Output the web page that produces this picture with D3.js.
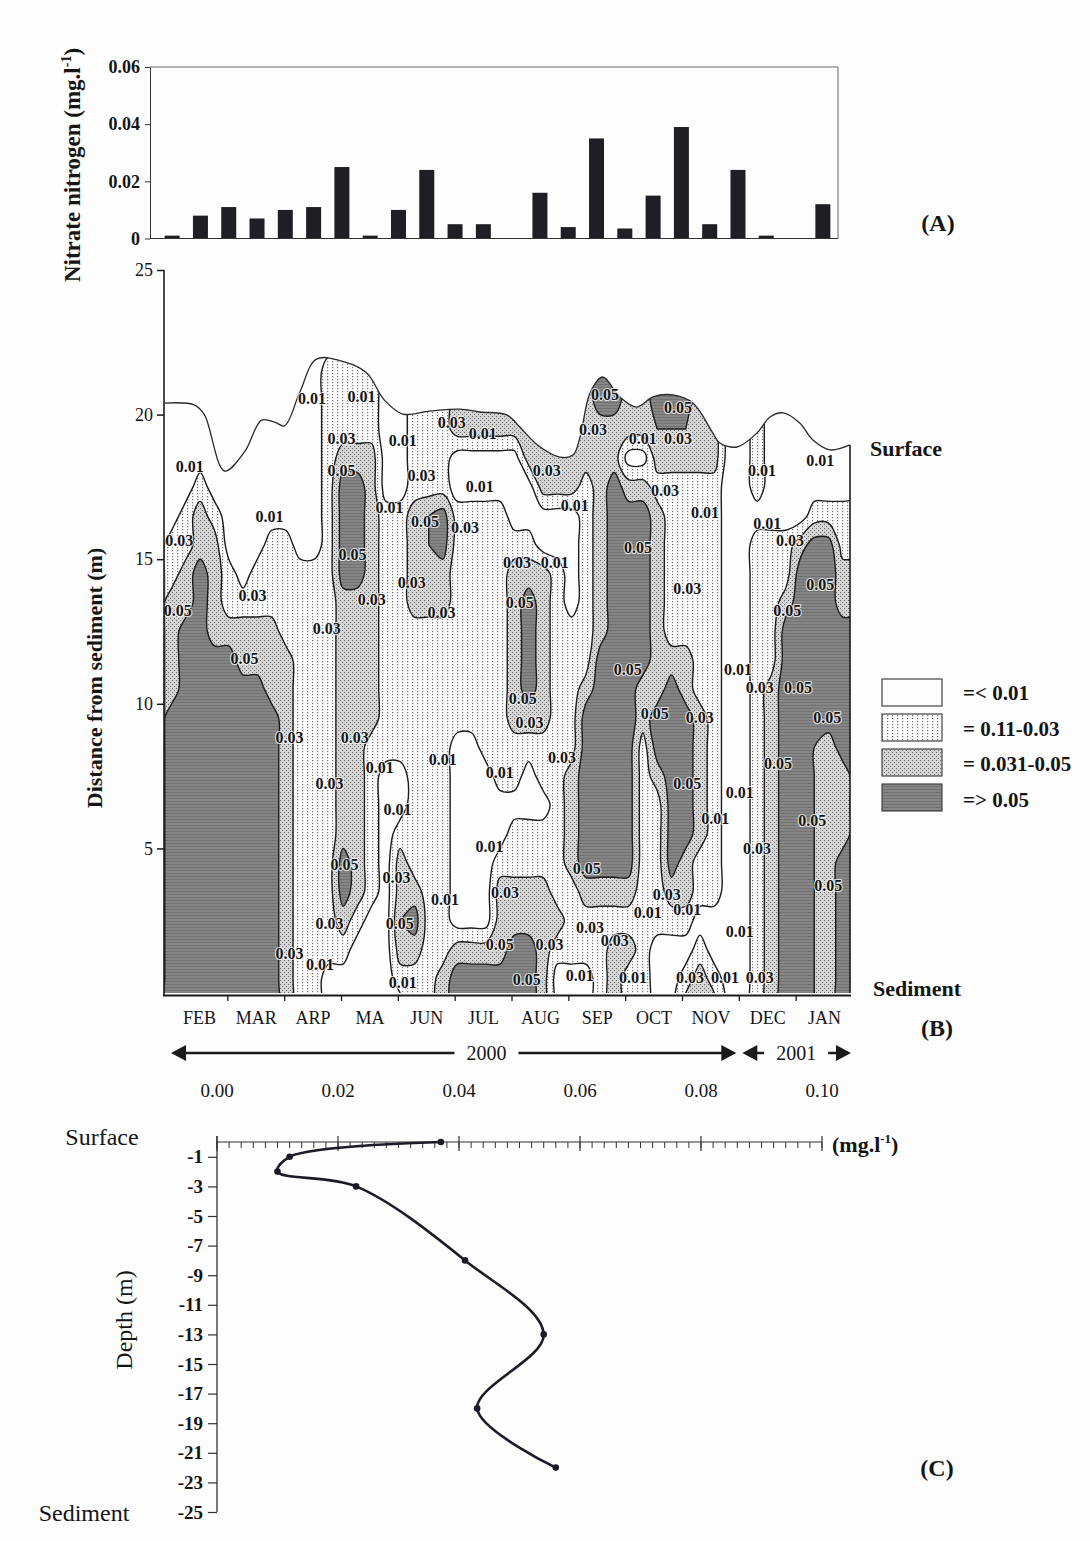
<!DOCTYPE html>
<html>
<head>
<meta charset="utf-8">
<title>Nitrate nitrogen</title>
<script src="https://cdn.jsdelivr.net/npm/d3@7/dist/d3.min.js"></script>
<style>
  html, body { margin: 0; padding: 0; background: #fdfdfd; }
  svg { display: block; }
  text { font-family: "Liberation Serif", "Times New Roman", Times, serif; fill: #151515; }
</style>
</head>
<body>
<svg id="fig" width="1090" height="1541"></svg>
<script>
// ---------- (A) nitrate nitrogen per fortnightly sample, mg/l ----------
const sampleNitrate = [0.001, 0.008, 0.011, 0.007, 0.010, 0.011, 0.025, 0.001, 0.010, 0.024, 0.005, 0.005,
                       0.000, 0.016, 0.004, 0.035, 0.0035, 0.015, 0.039, 0.005, 0.024, 0.001, 0.000, 0.012];
const sampleTicks = [0, 0.02, 0.04, 0.06];

// ---------- (B) section through the water column ----------
const months = ["FEB", "MAR", "ARP", "MA", "JUN", "JUL", "AUG", "SEP", "OCT", "NOV", "DEC", "JAN"];
const distanceTicks = [5, 10, 15, 20, 25];
const yearSpans = [
  { year: "2000", start: 0, end: 10, labelAt: 5.55 },
  { year: "2001", start: 10, end: 12, labelAt: 11 }
];

// Nitrate in hundredths of mg/l, one column per quarter month (FEB -> JAN),
// written as runs "value*count" from 22 m above the sediment down to 0 m.
const nitrateColumns = [
  "0*6 2*2 4*4 6*11", "0*5 2*2 4*2 6*14", "0*4 2*1 4*2 6*16", "0*5 2*1 4*4 6*13",
  "0*7 2*2 4*1 6*13", "0*8 2*1 4*2 6*12", "0*7 2*2 4*2 6*12", "0*6 2*3 4*3 6*11",
  "0*6 2*4 4*13", "0*7 2*16", "0*7 2*16", "2*21 0*2",
  "2*3 4*1 6*4 4*9 6*2 4*1 2*1 0*2", "2*3 4*1 6*4 4*11 2*1 0*3", "2*3 4*10 2*6 0*4", "0*5 2*9 0*9",
  "0*5 2*9 0*2 2*1 4*2 5*1 4*1 2*1 0*1", "2*5 4*4 2*9 4*1 6*1 4*1 2*2", "2*5 5*2 4*2 2*14", "2*5 6*2 4*2 2*12 4*2",
  "4*3 0*2 2*8 0*7 4*1 6*2", "4*3 0*2 2*8 0*7 4*1 6*2", "4*3 0*2 2*9 0*6 4*1 6*2", "4*3 0*2 2*10 0*2 2*1 4*3 6*2",
  "4*3 0*3 2*1 4*6 2*2 0*1 2*2 4*2 6*3", "4*4 0*2 2*1 4*1 6*4 4*1 2*1 0*2 2*2 4*2 6*3", "4*5 0*2 4*6 2*2 0*1 2*2 4*5", "4*5 0*2 2*12 4*1 2*1 0*2",
  "4*5 0*4 2*5 4*4 2*3 0*2", "4*4 2*7 4*1 6*6 4*1 2*2 0*2", "6*2 4*8 6*8 4*1 2*4", "6*2 4*2 6*14 4*1 2*1 4*3",
  "4*3 0*1 4*1 6*13 4*1 2*1 4*1 2*2", "4*3 0*1 4*1 6*6 4*2 2*10", "6*2 5*1 4*1 2*1 4*7 6*2 4*1 2*5 0*3", "6*2 5*1 4*1 2*6 4*1 6*7 4*1 2*1 0*3",
  "6*2 5*1 4*1 2*6 4*2 6*5 4*2 2*1 0*1 2*1 4*1", "6*1 4*3 2*8 4*5 2*2 0*1 2*1 4*2", "4*4 2*15 0*2 2*1 4*1", "0*23",
  "0*23", "2*5 0*1 2*17", "0*6 2*5 4*12", "0*6 2*2 4*1 6*14",
  "0*6 4*1 6*16", "0*5 2*1 6*4 5*13", "0*5 2*1 6*7 4*10", "0*5 2*2 4*2 6*5 4*3 6*6",
  "0*5 2*2 4*2 6*14"
];
const gridTop = 22;                 // metres above the sediment of the first value in each column
const isolines = [0.01, 0.03, 0.05];

// water surface, [month position, metres above sediment]
const surfaceLevel = [
  [0, 20.40], [0.53, 20.33], [0.70, 19.99], [1.05, 18.05], [1.40, 18.71], [1.70, 19.81], [1.93, 19.74],
  [2.10, 19.61], [2.37, 20.78], [2.66, 21.92], [3.15, 21.82], [3.54, 21.44], [3.85, 20.50], [4.17, 20.02],
  [4.64, 20.12], [5.17, 20.19], [5.52, 20.09], [5.99, 19.99], [6.22, 19.57], [6.53, 18.95], [6.92, 18.53],
  [7.15, 18.60], [7.27, 19.19], [7.45, 20.75], [7.67, 21.30], [7.97, 20.61], [8.27, 20.26], [8.55, 20.61],
  [8.90, 20.68], [9.25, 20.40], [9.60, 19.36], [9.72, 19.02], [10.02, 18.88], [10.37, 19.36], [10.60, 19.92],
  [10.83, 20.06], [11.12, 19.71], [11.35, 19.12], [11.65, 18.78], [12.00, 18.95]
];

// isoline labels, [month position, metres above sediment, text]
const contourLabels = [
  [2.58, 20.57, "0.01"], [3.45, 20.61, "0.01"], [5.03, 19.74, "0.03"], [5.57, 19.36, "0.01"], [3.10, 19.19, "0.03"],
  [4.17, 19.12, "0.01"], [0.44, 18.19, "0.01"], [3.10, 18.08, "0.05"], [4.50, 17.91, "0.03"], [5.52, 17.50, "0.01"],
  [3.94, 16.80, "0.01"], [1.84, 16.46, "0.01"], [4.56, 16.29, "0.05"], [5.26, 16.11, "0.03"], [0.26, 15.66, "0.03"],
  [3.29, 15.15, "0.05"], [4.33, 14.21, "0.03"], [1.54, 13.76, "0.03"], [3.63, 13.59, "0.03"], [4.85, 13.17, "0.03"],
  [0.23, 13.24, "0.05"], [2.84, 12.62, "0.03"], [1.40, 11.58, "0.05"], [2.19, 8.85, "0.03"], [3.33, 8.85, "0.03"],
  [3.77, 7.81, "0.01"], [4.87, 8.06, "0.01"], [2.89, 7.26, "0.03"], [4.08, 6.33, "0.01"], [5.69, 5.05, "0.01"],
  [3.15, 4.43, "0.05"], [4.06, 4.01, "0.03"], [4.91, 3.22, "0.01"], [4.12, 2.42, "0.05"], [2.89, 2.42, "0.03"],
  [2.19, 1.38, "0.03"], [2.72, 0.97, "0.01"], [4.17, 0.38, "0.01"],
  [7.71, 20.68, "0.05"], [8.99, 20.26, "0.05"], [7.50, 19.47, "0.03"], [8.37, 19.19, "0.01"], [8.99, 19.19, "0.03"],
  [10.46, 18.08, "0.01"], [11.48, 18.43, "0.01"], [6.69, 18.08, "0.03"], [7.18, 16.87, "0.01"], [8.76, 17.39, "0.03"],
  [9.46, 16.60, "0.01"], [10.55, 16.25, "0.01"], [10.95, 15.66, "0.03"], [8.29, 15.42, "0.05"], [6.17, 14.90, "0.03"],
  [6.83, 14.87, "0.01"], [11.48, 14.11, "0.05"], [9.15, 14.00, "0.03"], [6.22, 13.52, "0.05"], [10.90, 13.24, "0.05"],
  [8.11, 11.17, "0.05"], [10.04, 11.17, "0.01"], [10.42, 10.55, "0.03"], [11.09, 10.55, "0.05"], [6.27, 10.20, "0.05"],
  [8.58, 9.68, "0.05"], [9.37, 9.54, "0.03"], [11.60, 9.54, "0.05"], [6.39, 9.34, "0.03"], [6.96, 8.13, "0.03"],
  [10.74, 7.95, "0.05"], [5.87, 7.61, "0.01"], [9.15, 7.26, "0.05"], [10.07, 6.92, "0.01"], [9.64, 6.05, "0.01"],
  [11.34, 5.98, "0.05"], [10.37, 5.01, "0.03"], [7.39, 4.32, "0.05"], [11.62, 3.73, "0.05"], [5.96, 3.49, "0.03"],
  [8.79, 3.39, "0.03"], [8.46, 2.77, "0.01"], [9.15, 2.87, "0.01"], [7.45, 2.25, "0.03"], [10.07, 2.11, "0.01"],
  [7.88, 1.83, "0.03"], [5.87, 1.66, "0.05"], [6.74, 1.66, "0.03"], [7.27, 0.62, "0.01"], [8.20, 0.55, "0.01"],
  [9.20, 0.52, "0.03"], [9.81, 0.52, "0.01"], [10.42, 0.52, "0.03"], [6.34, 0.45, "0.05"]
];

const legendClasses = ["=< 0.01", "= 0.11-0.03", "= 0.031-0.05", "=> 0.05"];

// ---------- (C) vertical profile ----------
const profileDepth   = [0, -1, -2, -3, -8, -13, -18, -22];
const profileNitrate = [0.037, 0.012, 0.010, 0.023, 0.041, 0.054, 0.043, 0.056];
const profileDepthTicks = [-1, -3, -5, -7, -9, -11, -13, -15, -17, -19, -21, -23, -25];
const profileNitrateTicks = [0, 0.02, 0.04, 0.06, 0.08, 0.10];

// ======================================================================
const svg = d3.select("#fig");
const defs = svg.append("defs");
const ink = "#1b1b1b";

function addPattern(id, w, h, bg, marks, markFill) {
  const p = defs.append("pattern").attr("id", id)
    .attr("width", w).attr("height", h).attr("patternUnits", "userSpaceOnUse");
  p.append("rect").attr("width", w).attr("height", h).attr("fill", bg);
  marks.forEach(([x, y, mw, mh]) => p.append("rect")
    .attr("x", x).attr("y", y).attr("width", mw).attr("height", mh).attr("fill", markFill));
}
addPattern("fillLow", 5, 3, "#fbfbfb", [[2, 1, 1.2, 1.2]], "#767676");
addPattern("fillMid", 4, 4, "#d4d4d4", [[0, 0, 1, 1], [2, 2, 1, 1]], "#686868");
addPattern("fillHigh", 4, 3, "#858585", [[0, 0, 4, 1]], "#727272");
const bandFill = new Map([[0.01, "url(#fillLow)"], [0.03, "url(#fillMid)"], [0.05, "url(#fillHigh)"]]);

// ---------------- panel A ----------------
const xA = d3.scaleBand().domain(d3.range(sampleNitrate.length)).range([158, 837])
  .paddingInner(0.47).paddingOuter(0.235);
const yA = d3.scaleLinear().domain([0, 0.06]).range([238.5, 67]);
const gA = svg.append("g");
gA.append("path").attr("d", `M150,${yA(0.06)}H838V${yA(0)}`)
  .attr("fill", "none").attr("stroke", "#666").attr("stroke-width", 1);
gA.selectAll("rect.bar").data(sampleNitrate).join("rect").attr("class", "bar")
  .attr("x", (d, i) => xA(i)).attr("width", xA.bandwidth())
  .attr("y", d => yA(d)).attr("height", d => yA(0) - yA(d))
  .attr("fill", "#1e1e24");
gA.append("line").attr("x1", 150).attr("x2", 838).attr("y1", yA(0)).attr("y2", yA(0))
  .attr("stroke", "#333").attr("stroke-width", 1.2);
const axA = gA.append("g").attr("transform", "translate(150,0)")
  .call(d3.axisLeft(yA).tickValues(sampleTicks).tickSize(5).tickSizeOuter(0)
    .tickFormat(d => d === 0 ? "0" : d3.format(".2f")(d)));
axA.attr("font-family", null).attr("font-size", null);
axA.select(".domain").attr("stroke", "#333");
axA.selectAll(".tick line").attr("stroke", "#333");
axA.selectAll("text").attr("font-size", 18).attr("font-weight", "bold").attr("x", -10);

const labA = svg.append("text").attr("transform", "translate(80,165) rotate(-90)")
  .attr("text-anchor", "middle").attr("font-size", 23).attr("font-weight", "bold");
labA.append("tspan").text("Nitrate nitrogen (mg.l");
labA.append("tspan").attr("dy", -9).attr("font-size", 14).text("-1");
labA.append("tspan").attr("dy", 9).text(")");
svg.append("text").attr("x", 938).attr("y", 231).attr("text-anchor", "middle")
  .attr("font-size", 24).attr("font-weight", "bold").text("(A)");

// ---------------- panel B ----------------
const gx = d3.scaleLinear().domain([0, 12]).range([164.5, 850]);   // contour body
const gy = d3.scaleLinear().domain([0, 25]).range([993, 270]);
const mx = d3.scaleLinear().domain([0, 12]).range([171, 853]);     // month axis

const columns = nitrateColumns.map(s => {
  const out = [];
  s.split(" ").forEach(tok => {
    const [v, n] = tok.split("*");
    for (let k = 0; k < +n; k++) out.push(+v / 100);
  });
  return out;
});
const nCols = columns.length, nRows = gridTop + 1;
const values = new Float64Array(nCols * nRows);
for (let j = 0; j < nRows; j++)
  for (let i = 0; i < nCols; i++) {
    const col = columns[i];
    values[j * nCols + i] = col[Math.min(j, col.length - 1)];
  }
const colStep = 12 / (nCols - 1);
const bands = d3.contours().size([nCols, nRows]).thresholds(isolines)(values);
const toPx = p => [gx(p[0] * colStep), gy(gridTop - p[1])];
const ringCurve = d3.line().curve(d3.curveCatmullRomClosed.alpha(0.5));
const bandPath = g => g.coordinates
  .map(poly => poly.map(r => ringCurve(r.slice(0, -1).map(toPx))).join(""))
  .join("");

const surfLine = d3.line().x(d => gx(d[0])).y(d => gy(d[1])).curve(d3.curveCatmullRom.alpha(0.5));
defs.append("clipPath").attr("id", "waterBody").append("path")
  .attr("d", surfLine(surfaceLevel) + `L${gx(12)},${gy(0)}L${gx(0)},${gy(0)}Z`);

const gB = svg.append("g");
const body = gB.append("g").attr("clip-path", "url(#waterBody)");
body.selectAll("path.band").data(bands).join("path").attr("class", "band")
  .attr("d", bandPath).attr("fill", d => bandFill.get(d.value)).attr("fill-rule", "evenodd");
body.selectAll("path.iso").data(bands).join("path").attr("class", "iso")
  .attr("d", bandPath).attr("fill", "none").attr("stroke", ink).attr("stroke-width", 1.4)
  .attr("stroke-linejoin", "round");

gB.append("path").attr("d", surfLine(surfaceLevel)).attr("fill", "none")
  .attr("stroke", "#2a2a2a").attr("stroke-width", 1.3);
gB.append("line").attr("x1", gx(12)).attr("x2", gx(12))
  .attr("y1", gy(surfaceLevel[surfaceLevel.length - 1][1])).attr("y2", gy(0))
  .attr("stroke", ink).attr("stroke-width", 1.6);

// isoline labels
gB.selectAll("text.iso-label").data(contourLabels).join("text").attr("class", "iso-label")
  .attr("x", d => gx(d[0])).attr("y", d => gy(d[1]))
  .attr("text-anchor", "middle").attr("dominant-baseline", "central")
  .attr("font-size", 16).attr("font-weight", "bold")
  .attr("stroke", "#fdfdfd").attr("stroke-width", 2.2).attr("stroke-opacity", 0.75)
  .attr("paint-order", "stroke")
  .text(d => d[2]);

// axes of panel B
const axB = gB.append("g").attr("transform", "translate(164,0)")
  .call(d3.axisLeft(gy).tickValues(distanceTicks).tickSize(7).tickSizeOuter(0));
axB.attr("font-family", null).attr("font-size", null);
axB.select(".domain").remove();
axB.selectAll(".tick line").attr("stroke", ink).attr("stroke-width", 1.5);
axB.selectAll("text").attr("font-size", 18).attr("x", -11);
gB.append("line").attr("x1", 164).attr("x2", 164).attr("y1", gy(25)).attr("y2", 996)
  .attr("stroke", ink).attr("stroke-width", 1.6);
gB.append("line").attr("x1", 163).attr("x2", 851).attr("y1", 995.5).attr("y2", 995.5)
  .attr("stroke", ink).attr("stroke-width", 2);
gB.selectAll("line.mtick").data(d3.range(1, 12)).join("line").attr("class", "mtick")
  .attr("x1", d => mx(d)).attr("x2", d => mx(d)).attr("y1", 995).attr("y2", 1001)
  .attr("stroke", ink).attr("stroke-width", 1.3);
gB.selectAll("text.month").data(months).join("text").attr("class", "month")
  .attr("x", (d, i) => mx(i + 0.5)).attr("y", 1024).attr("text-anchor", "middle")
  .attr("font-size", 18).text(d => d);

// year arrows
const arrowY = 1053;
function arrowHead(tipX, dir) {
  const len = 15, half = 8;
  return `M${tipX},${arrowY}L${tipX - dir * len},${arrowY - half}L${tipX - dir * len},${arrowY + half}Z`;
}
yearSpans.forEach(s => {
  const left = mx(s.start) + (s.start === 0 ? 0 : 3);
  const right = mx(s.end) - (s.end === 12 ? 2 : 3);
  const t = gB.append("text").attr("x", mx(s.labelAt)).attr("y", arrowY + 7)
    .attr("text-anchor", "middle").attr("font-size", 20).text(s.year);
  const w = t.node().getComputedTextLength();
  const tl = mx(s.labelAt) - w / 2 - 12, tr = mx(s.labelAt) + w / 2 + 12;
  gB.append("path").attr("d", `M${left + 8},${arrowY}H${tl}M${tr},${arrowY}H${right - 8}`)
    .attr("stroke", ink).attr("stroke-width", 2.4).attr("fill", "none");
  gB.append("path").attr("d", arrowHead(left, -1)).attr("fill", ink);
  gB.append("path").attr("d", arrowHead(right, 1)).attr("fill", ink);
});

svg.append("text").attr("transform", "translate(102,678) rotate(-90)")
  .attr("text-anchor", "middle").attr("font-size", 22).attr("font-weight", "bold")
  .text("Distance from sediment (m)");
svg.append("text").attr("x", 906).attr("y", 456).attr("text-anchor", "middle")
  .attr("font-size", 22).attr("font-weight", "bold").text("Surface");
svg.append("text").attr("x", 917).attr("y", 996).attr("text-anchor", "middle")
  .attr("font-size", 22).attr("font-weight", "bold").text("Sediment");
svg.append("text").attr("x", 937).attr("y", 1036).attr("text-anchor", "middle")
  .attr("font-size", 24).attr("font-weight", "bold").text("(B)");

// legend
const legendFills = ["#fdfdfd", "url(#fillLow)", "url(#fillMid)", "url(#fillHigh)"];
const lg = svg.append("g");
lg.selectAll("rect").data(legendClasses).join("rect")
  .attr("x", 882).attr("y", (d, i) => 679 + i * 35).attr("width", 60).attr("height", 27)
  .attr("fill", (d, i) => legendFills[i]).attr("stroke", "#444").attr("stroke-width", 1.2);
lg.selectAll("text").data(legendClasses).join("text")
  .attr("x", 963).attr("y", (d, i) => 700 + i * 35.5)
  .attr("font-size", 21).attr("font-weight", "bold").text(d => d);

// ---------------- panel C ----------------
const px = d3.scaleLinear().domain([0, 0.1]).range([217, 822]);
const py = d3.scaleLinear().domain([0, -25]).range([1142, 1512]);
const gC = svg.append("g");
gC.selectAll("text.xlab").data(profileNitrateTicks).join("text").attr("class", "xlab")
  .attr("x", d => px(d)).attr("y", 1097).attr("text-anchor", "middle")
  .attr("font-size", 19).text(d => d3.format(".2f")(d));
gC.append("line").attr("x1", px(0)).attr("x2", px(0.1)).attr("y1", py(0)).attr("y2", py(0))
  .attr("stroke", "#333").attr("stroke-width", 1.2);
gC.selectAll("line.minor").data(px.ticks(50)).join("line").attr("class", "minor")
  .attr("x1", d => px(d)).attr("x2", d => px(d)).attr("y1", py(0)).attr("y2", py(0) + 6)
  .attr("stroke", "#333").attr("stroke-width", 1);
gC.selectAll("line.major").data(profileNitrateTicks).join("line").attr("class", "major")
  .attr("x1", d => px(d)).attr("x2", d => px(d)).attr("y1", py(0) - 6).attr("y2", py(0) + 9)
  .attr("stroke", "#333").attr("stroke-width", 1.2);
const axC = gC.append("g").attr("transform", `translate(${px(0)},0)`)
  .call(d3.axisLeft(py).tickValues(profileDepthTicks).tickSize(9).tickSizeOuter(0)
    .tickFormat(d => String(d)));
axC.attr("font-family", null).attr("font-size", null);
axC.select(".domain").remove();
axC.selectAll(".tick line").attr("stroke", "#333").attr("stroke-width", 1.2);
axC.selectAll("text").attr("font-size", 19).attr("font-weight", "bold").attr("x", -14);
gC.append("line").attr("x1", px(0)).attr("x2", px(0)).attr("y1", py(0) - 6).attr("y2", py(-25))
  .attr("stroke", "#333").attr("stroke-width", 1.3);

const profile = profileDepth.map((d, i) => [profileNitrate[i], d]);
gC.append("path").datum(profile)
  .attr("d", d3.line().x(d => px(d[0])).y(d => py(d[1])).curve(d3.curveCatmullRom.alpha(0.5)))
  .attr("fill", "none").attr("stroke", "#1c1c28").attr("stroke-width", 2.6);
gC.selectAll("circle").data(profile).join("circle")
  .attr("cx", d => px(d[0])).attr("cy", d => py(d[1])).attr("r", 3.3).attr("fill", "#1c1c28");

const unit = gC.append("text").attr("x", 832).attr("y", 1152).attr("font-size", 22).attr("font-weight", "bold");
unit.append("tspan").text("(mg.l");
unit.append("tspan").attr("dy", -9).attr("font-size", 13).text("-1");
unit.append("tspan").attr("dy", 9).text(")");
svg.append("text").attr("x", 102).attr("y", 1145).attr("text-anchor", "middle")
  .attr("font-size", 24).text("Surface");
svg.append("text").attr("x", 84).attr("y", 1521).attr("text-anchor", "middle")
  .attr("font-size", 24).text("Sediment");
svg.append("text").attr("transform", "translate(132,1320) rotate(-90)")
  .attr("text-anchor", "middle").attr("font-size", 24).text("Depth (m)");
svg.append("text").attr("x", 937).attr("y", 1476).attr("text-anchor", "middle")
  .attr("font-size", 24).attr("font-weight", "bold").text("(C)");
</script>
</body>
</html>
